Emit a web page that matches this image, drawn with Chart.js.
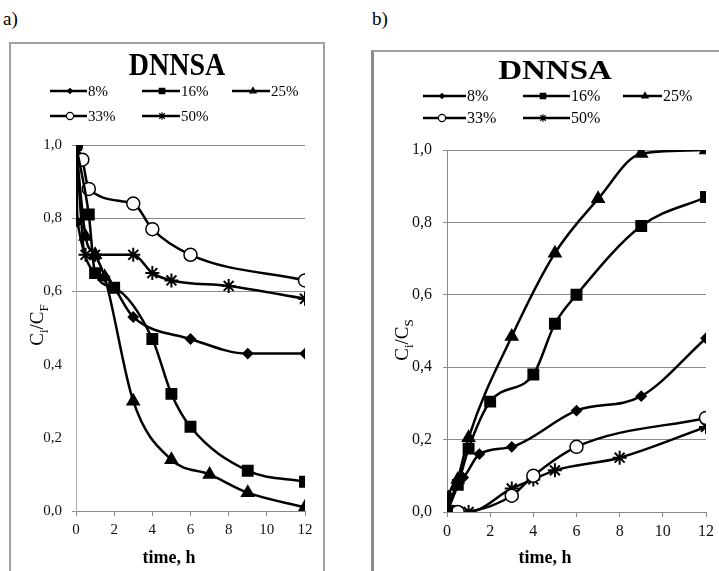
<!DOCTYPE html>
<html>
<head>
<meta charset="utf-8">
<script src="https://cdn.jsdelivr.net/npm/chart.js@4.4.1/dist/chart.umd.min.js"></script>
<style>
  body { margin: 0; background: #fff; width: 719px; height: 571px; overflow: hidden; position: relative;
         font-family: "Liberation Serif", "DejaVu Serif", serif; }
  .tag { position: absolute; font-size: 19px; color: #000; }
  .frame { position: absolute; box-sizing: border-box; }
  canvas { position: absolute; top: 0; }
</style>
</head>
<body>
<div class="tag" style="left:3px;top:8px">a)</div>
<div class="tag" style="left:372px;top:8px">b)</div>
<div class="frame" style="left:9px;top:42px;width:316px;height:560px;border:2px solid #a0a0a0"></div>
<div class="frame" style="left:371px;top:50px;width:380px;height:560px;border-left:3px solid #8a8a8a;border-top:2px solid #a0a0a0"></div>
<canvas id="chartA" width="360" height="571" style="left:0"></canvas>
<canvas id="chartB" width="359" height="571" style="left:360px"></canvas>
<script>
// ---------------------------------------------
// DNNSA — two panels: a) Ci/CF, b) Ci/CS vs time
// ---------------------------------------------

const SERIES = ["8%", "16%", "25%", "33%", "50%"];
const X_TICKS = [0, 2, 4, 6, 8, 10, 12];
const Y_TICKS = [0, 0.2, 0.4, 0.6, 0.8, 1.0];

// panel a) — Ci/CF
const timeA8  = [0, 0.08, 1.5, 3, 6, 9, 12];
const valA8   = [1.0, 0.79, 0.64, 0.53, 0.47, 0.43, 0.43];
const timeA16 = [0, 0.67, 1, 2, 4, 5, 6, 9, 12];
const valA16  = [1.0, 0.81, 0.65, 0.61, 0.47, 0.32, 0.23, 0.11, 0.08];
const timeA25 = [0, 0.5, 1, 1.5, 3, 5, 7, 9, 12];
const valA25  = [1.0, 0.75, 0.70, 0.64, 0.30, 0.14, 0.10, 0.05, 0.01];
const timeA33 = [0, 0.33, 0.67, 3, 4, 6, 12];
const valA33  = [1.0, 0.96, 0.88, 0.84, 0.77, 0.70, 0.63];
const timeA50 = [0, 0.5, 1, 3, 4, 5, 8, 12];
const valA50  = [1.0, 0.70, 0.70, 0.70, 0.65, 0.63, 0.615, 0.58];

// panel b) — Ci/CS
const timeB8  = [0, 0.08, 0.75, 1.5, 3, 6, 9, 12];
const valB8   = [0, 0.045, 0.095, 0.16, 0.18, 0.28, 0.32, 0.48];
const timeB16 = [0, 0.5, 1, 2, 4, 5, 6, 9, 12];
const valB16  = [0, 0.075, 0.175, 0.305, 0.38, 0.52, 0.60, 0.79, 0.87];
const timeB25 = [0, 0.5, 1, 3, 5, 7, 9, 12];
const valB25  = [0, 0.09, 0.205, 0.485, 0.715, 0.865, 0.99, 1.0];
const timeB33 = [0, 0.25, 0.5, 3, 4, 6, 12];
const valB33  = [0, 0, 0, 0.045, 0.10, 0.18, 0.26];
const timeB50 = [0, 0.5, 1, 3, 4, 5, 8, 12];
const valB50  = [0, 0, 0, 0.065, 0.09, 0.115, 0.15, 0.235];

// marker look for each series (Excel-like)
const MARKERS = [
  { pointStyle: "rectRot",  radius: 4.5, fill: "#000" },
  { pointStyle: "rect",     radius: 7,   fill: "#000" },
  { pointStyle: "triangle", radius: 6.5, fill: "#000" },
  { pointStyle: "circle",   radius: 6.5, fill: "#fff" },
  { pointStyle: "star",     radius: 7,   fill: "#000" },
];

const SERIF = '"Liberation Serif", "DejaVu Serif", serif';

function toPoints(times, vals) {
  return times.map((t, i) => ({ x: t, y: vals[i] }));
}

function makeDatasets(pairs) {
  return pairs.map(([t, v], i) => ({
    label: SERIES[i],
    data: toPoints(t, v),
    borderColor: "#000",
    borderWidth: 2.5,
    tension: 0.35,
    cubicInterpolationMode: "monotone",
    pointStyle: MARKERS[i].pointStyle,
    pointRadius: MARKERS[i].radius,
    pointBackgroundColor: MARKERS[i].fill,
    pointBorderColor: "#000",
    pointBorderWidth: MARKERS[i].pointStyle === "circle" ? 1.5 : 2,
    fill: false,
  }));
}

// draws text stretched like the scanned original
function stretchText(ctx, text, x, y, font, sx, sy) {
  ctx.save();
  ctx.translate(x, y);
  ctx.scale(sx, sy);
  ctx.font = font;
  ctx.textAlign = "center";
  ctx.textBaseline = "alphabetic";
  ctx.fillText(text, 0, 0);
  ctx.restore();
}

// rotated axis title with subscripts, e.g. C i / C F
function drawSubTitle(ctx, parts, cx, cy, size) {
  ctx.save();
  ctx.translate(cx, cy);
  ctx.rotate(-Math.PI / 2);
  ctx.fillStyle = "#000";
  ctx.textBaseline = "alphabetic";
  const fonts = parts.map(p => p.sub ? `${Math.round(size * 0.7)}px ${SERIF}` : `${size}px ${SERIF}`);
  let total = 0;
  parts.forEach((p, i) => { ctx.font = fonts[i]; total += ctx.measureText(p.t).width; });
  let x = -total / 2;
  parts.forEach((p, i) => {
    ctx.font = fonts[i];
    ctx.fillText(p.t, x, p.sub ? size * 0.3 + size * 0.3 : size * 0.3);
    x += ctx.measureText(p.t).width;
  });
  ctx.restore();
}

function decorPlugin(cfg) {
  return {
    id: "decor",
    afterDraw(chart) {
      const ctx = chart.ctx;
      ctx.save();
      ctx.fillStyle = "#000";

      // title
      stretchText(ctx, "DNNSA", cfg.titleX, cfg.titleY, `bold ${cfg.titleSize}px ${SERIF}`, 1, cfg.titleSy);

      // legend: line + marker + label
      cfg.legend.forEach((e, i) => {
        const m = MARKERS[i];
        ctx.beginPath();
        ctx.moveTo(e.x0, e.y);
        ctx.lineTo(e.x1, e.y);
        ctx.strokeStyle = "#000";
        ctx.lineWidth = 2.5;
        ctx.stroke();

        ctx.fillStyle = m.fill;
        ctx.strokeStyle = "#000";
        ctx.lineWidth = 1.2;
        Chart.helpers.drawPoint(ctx, {
          pointStyle: m.pointStyle,
          radius: m.radius * 0.55,
          rotation: 0,
          borderWidth: 1.2
        }, e.mx, e.y);

        ctx.fillStyle = "#000";
        ctx.font = `${cfg.legendSize}px ${SERIF}`;
        ctx.textAlign = "left";
        ctx.textBaseline = "middle";
        ctx.fillText(SERIES[i], e.x1 + 1, e.y + 1);
      });

      // axis titles
      drawSubTitle(ctx, cfg.yTitle, cfg.yTitleX, cfg.yTitleY, 19);
      ctx.fillStyle = "#000";
      ctx.font = `bold 18px ${SERIF}`;
      ctx.textAlign = "center";
      ctx.textBaseline = "middle";
      ctx.fillText("time, h", cfg.xTitleX, cfg.xTitleY);

      ctx.restore();
    }
  };
}

function buildChart(canvasId, datasets, cfg) {
  const ctx = document.getElementById(canvasId).getContext("2d");

  return new Chart(ctx, {
    type: "line",
    data: { datasets },
    plugins: [decorPlugin(cfg)],
    options: {
      responsive: false,
      animation: false,
      devicePixelRatio: 1,
      layout: {
        padding: { top: cfg.top, right: cfg.right, left: 0, bottom: 0 }
      },
      scales: {
        x: {
          type: "linear",
          min: 0,
          max: 12,
          afterBuildTicks: s => { s.ticks = X_TICKS.map(v => ({ value: v })); },
          afterFit: s => { s.height = cfg.xHeight; },
          grid: { drawOnChartArea: false, drawTicks: true, tickLength: 5, color: "#8a8a8a" },
          border: { color: "#8a8a8a", width: 1 },
          ticks: {
            color: "#111",
            padding: 5,
            font: { family: SERIF, size: cfg.tickSize }
          }
        },
        y: {
          min: 0,
          max: 1,
          afterBuildTicks: s => { s.ticks = Y_TICKS.map(v => ({ value: v })); },
          afterFit: s => { s.width = cfg.yWidth; },
          grid: {
            tickLength: 4,
            color: c => cfg.hideGrid.some(h => Math.abs(h - c.tick.value) < 1e-6) ? "rgba(0,0,0,0)" : "#8a8a8a"
          },
          border: { color: cfg.yBorder, width: 1 },
          ticks: {
            color: "#111",
            padding: cfg.yPad,
            font: { family: SERIF, size: cfg.tickSize },
            callback: v => v.toFixed(1).replace(".", ",")
          }
        }
      },
      plugins: {
        legend: { display: false },
        tooltip: { enabled: false }
      }
    }
  });
}

buildChart("chartA", makeDatasets([
  [timeA8, valA8], [timeA16, valA16], [timeA25, valA25], [timeA33, valA33], [timeA50, valA50]
]), {
  top: 145, right: 55, xHeight: 60, yWidth: 76, yPad: 10, tickSize: 15,
  hideGrid: [0.2, 0.4], yBorder: "#b0b0b0",
  titleX: 177, titleY: 75, titleSize: 28, titleSy: 1.15,
  legendSize: 15,
  legend: [
    { x0: 50,  x1: 87,  mx: 70,  y: 91 },
    { x0: 142, x1: 180, mx: 162, y: 91 },
    { x0: 232, x1: 270, mx: 253, y: 91 },
    { x0: 50,  x1: 87,  mx: 70,  y: 116 },
    { x0: 142, x1: 180, mx: 162, y: 116 },
  ],
  yTitle: [{ t: "C" }, { t: "i", sub: true }, { t: "/C" }, { t: "F", sub: true }],
  yTitleX: 37, yTitleY: 325,
  xTitleX: 169, xTitleY: 558
});

buildChart("chartB", makeDatasets([
  [timeB8, valB8], [timeB16, valB16], [timeB25, valB25], [timeB33, valB33], [timeB50, valB50]
]), {
  top: 150, right: 12, xHeight: 59, yWidth: 87, yPad: 11, tickSize: 16,
  hideGrid: [], yBorder: "#8a8a8a",
  titleX: 195, titleY: 79, titleSize: 33, titleSy: 0.8,
  legendSize: 16,
  legend: [
    { x0: 63,  x1: 106, mx: 82,  y: 96 },
    { x0: 163, x1: 210, mx: 183, y: 96 },
    { x0: 263, x1: 302, mx: 285, y: 96 },
    { x0: 63,  x1: 106, mx: 82,  y: 118 },
    { x0: 163, x1: 210, mx: 183, y: 118 },
  ],
  yTitle: [{ t: "C" }, { t: "i", sub: true }, { t: "/C" }, { t: "S", sub: true }],
  yTitleX: 42, yTitleY: 340,
  xTitleX: 185, xTitleY: 558
});
</script>
</body>
</html>
